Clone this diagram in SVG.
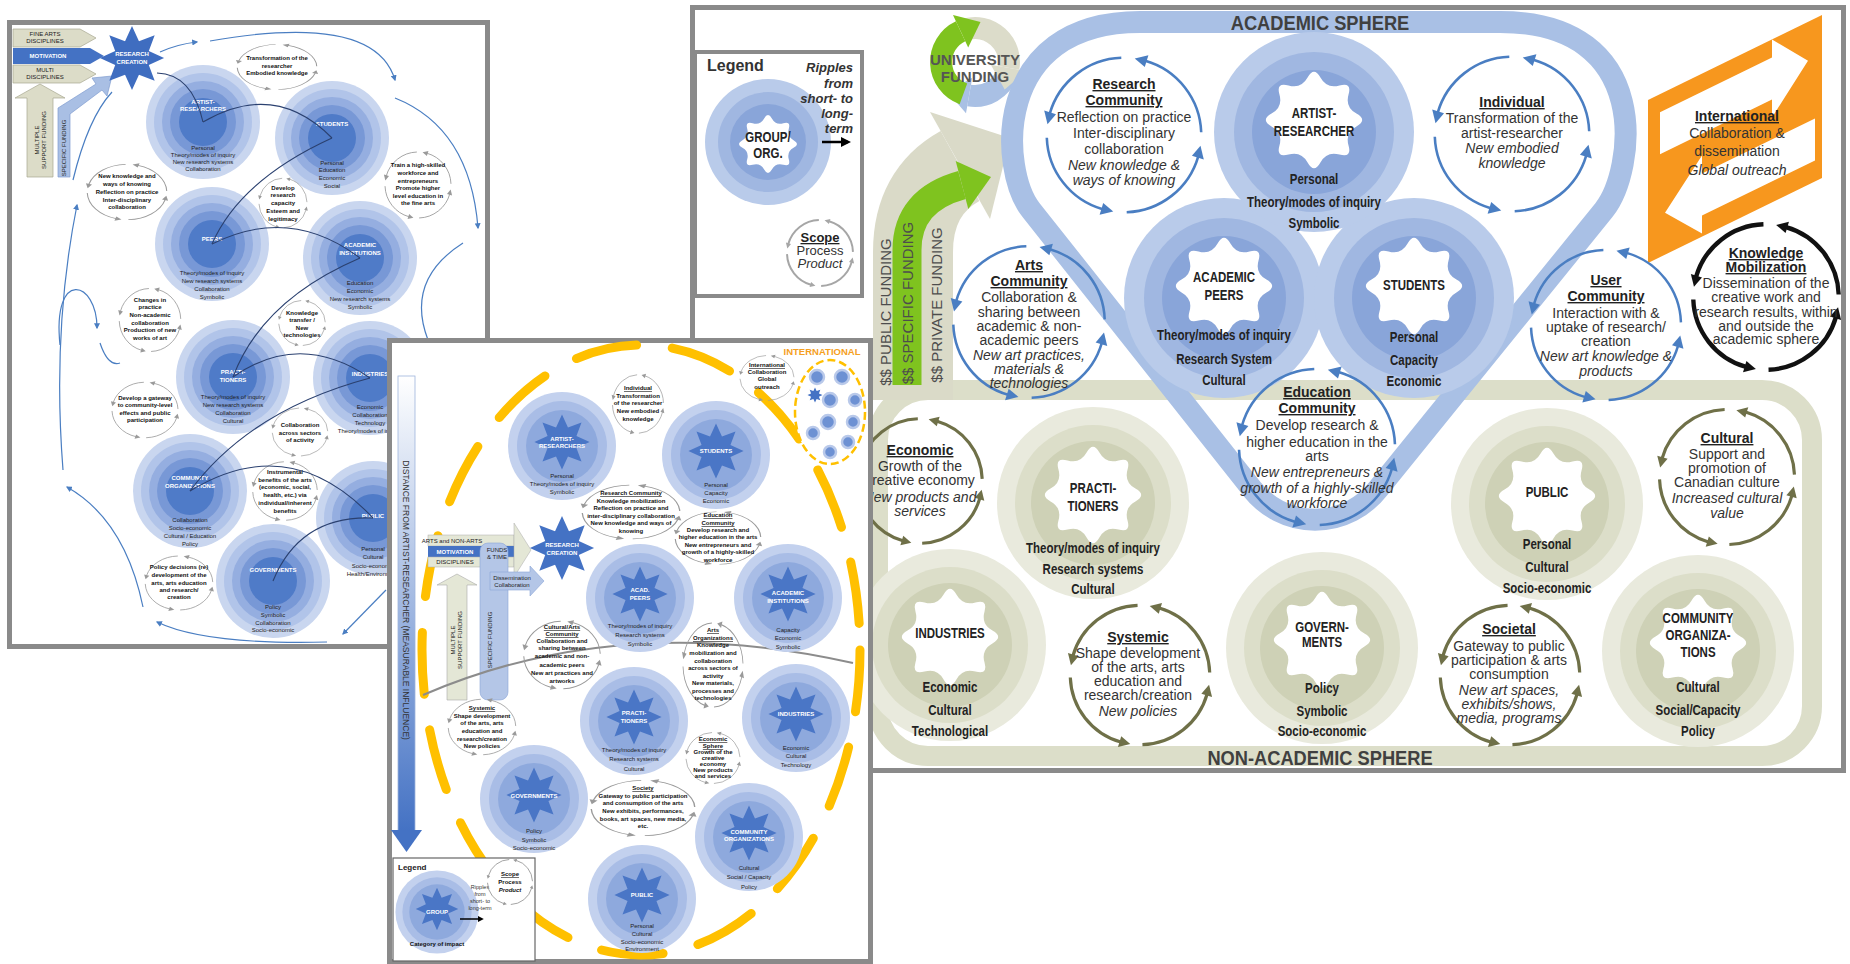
<svg xmlns="http://www.w3.org/2000/svg" width="1850" height="964" viewBox="0 0 1850 964">
<defs>
<style>
text{font-family:"Liberation Sans",Arial,sans-serif}
.t{font-size:14px;fill:#333;text-anchor:middle}
.h{font-weight:bold;text-decoration:underline;fill:#222}
.i{font-style:italic}
.n{font-family:"Liberation Sans",Arial,sans-serif;font-weight:bold;font-size:14px;fill:#222;text-anchor:middle}
.sp{font-family:"Liberation Sans",Arial,sans-serif;font-weight:bold;font-size:21px;fill:#404040;text-anchor:middle}
.fund{font-size:15px;fill:#4d4d4d;text-anchor:middle}
.frame{fill:#fff;stroke:#8a8a8a;stroke-width:5}
.s6{font-size:6px;fill:#222;text-anchor:middle}
.w6{font-size:6px;fill:#fff;font-weight:bold;text-anchor:middle}
.b6{font-size:6px;fill:#111;font-weight:bold;text-anchor:middle}
.bl{fill:none;stroke:#4a7ec2;stroke-width:1.2}
.nv{fill:none;stroke:#2b4170;stroke-width:1.1}
</style>
<path id="star8w" d="M45.63,-6.89 Q58,0 45.63,6.89 T37.14,27.4 T27.4,37.14 T6.89,45.63 T-6.89,45.63 T-27.4,37.14 T-37.14,27.4 T-45.63,6.89 T-45.63,-6.89 T-37.14,-27.4 T-27.4,-37.14 T-6.89,-45.63 T6.89,-45.63 T27.4,-37.14 T37.14,-27.4 T45.63,-6.89 Z"/>
<polygon id="star8p" points="0,-30 6.5,-15.7 21.2,-21.2 15.7,-6.5 30,0 15.7,6.5 21.2,21.2 6.5,15.7 0,30 -6.5,15.7 -21.2,21.2 -15.7,6.5 -30,0 -15.7,-6.5 -21.2,-21.2 -6.5,-15.7"/>
<g id="nodeB"><circle r="100" fill="#b9cbea"/><circle r="80" fill="#a0b7e1"/><circle r="62" fill="#89a5d9"/><use href="#star8w" transform="translate(0,-12) scale(0.93)" fill="#fff"/></g>
<g id="nodeG"><circle r="96" fill="#e9eadd"/><circle r="78" fill="#dcdec9"/><circle r="62" fill="#ced1b6"/><use href="#star8w" transform="translate(0,-8) scale(0.93)" fill="#fff"/></g>
<g id="lpNode"><circle r="57" fill="#c9d6ef"/><circle r="49" fill="#b1c4e9"/><circle r="41" fill="#95aee0"/><circle r="33" fill="#7898d6"/><circle r="24" fill="#4f7bc8"/></g>
<g id="mpNode"><circle r="54" fill="#c3d1ee"/><circle r="45" fill="#a9bde6"/><circle r="36" fill="#8ea9dd"/><use href="#star8p" transform="translate(0,-4) scale(0.92)" fill="#4a76c6"/></g>
<g id="seg"><path d="M2.62,74.95 A75,75 0 0 0 72.1,20.67" fill="none" stroke="currentColor"/><polygon points="74.27,10.44 77.46,23.68 65.98,20.18" fill="currentColor"/></g>
<g id="cyc"><use href="#seg"/><use href="#seg" transform="rotate(90)"/><use href="#seg" transform="rotate(180)"/><use href="#seg" transform="rotate(270)"/></g>
<marker id="mb" viewBox="0 0 10 10" refX="8" refY="5" markerWidth="5" markerHeight="5" orient="auto"><path d="M0,0 L10,5 L0,10 z" fill="#4a7ec2"/></marker>
<marker id="mk" viewBox="0 0 10 10" refX="7" refY="5" markerWidth="4" markerHeight="4" orient="auto"><path d="M0,0 L10,5 L0,10 z" fill="#000"/></marker>
<linearGradient id="gDist" x1="0" y1="0" x2="0" y2="1"><stop offset="0" stop-color="#ffffff"/><stop offset="1" stop-color="#4472c4"/></linearGradient>
</defs>
<rect width="1850" height="964" fill="#fff"/>

<!-- ================= LEFT PANEL ================= -->
<g id="left-panel">
<rect class="frame" x="9.5" y="22.5" width="478" height="624"/>
<g id="lp-inputs">
<polygon points="13,29 80,29 96,38 80,47 13,47" fill="#dcdcc8" stroke="#a8a890" stroke-width="0.7"/>
<text class="s6" x="45" y="36" font-size="5">FINE ARTS</text><text class="s6" x="45" y="43" font-size="5">DISCIPLINES</text>
<polygon points="13,48 90,48 104,56 90,64 13,64" fill="#4472c4"/>
<text class="w6" x="48" y="58" font-size="5">MOTIVATION</text>
<polygon points="13,65 80,65 96,74 80,83 13,83" fill="#dcdcc8" stroke="#a8a890" stroke-width="0.7"/>
<text class="s6" x="45" y="72" font-size="5">MULTI</text><text class="s6" x="45" y="79" font-size="5">DISCIPLINES</text>
<polygon points="27,177 27,98 15,98 40,84 65,98 53,98 53,177" fill="#dcdcc8" stroke="#a8a890" stroke-width="0.7"/>
<text class="s6" font-size="5" transform="translate(39,140) rotate(-90)">MULTIPLE</text>
<text class="s6" font-size="5" transform="translate(46,140) rotate(-90)">SUPPORT FUNDING</text>
<polygon points="58,177 58,108 96,84 92,78 112,76 107,96 102,90 70,114 70,177" fill="#a9bfe4" stroke="#7f9cd0" stroke-width="0.7"/>
<text class="s6" font-size="5" transform="translate(66,148) rotate(-90)">SPECIFIC FUNDING</text>
</g>
<g id="lp-research-creation"><use href="#star8p" transform="translate(132,58) scale(1.07)" fill="#3f6dc0"/><text class="w6" x="132" y="56">RESEARCH</text><text class="w6" x="132" y="64">CREATION</text></g>

<g id="lp-artist"><use href="#lpNode" x="203" y="122"/><text class="w6" x="203" y="104">ARTIST-</text><text class="w6" x="203" y="111">RESEARCHERS</text><text class="s6" x="203" y="150">Personal</text><text class="s6" x="203" y="157">Theory/modes of inquiry</text><text class="s6" x="203" y="164">New research systems</text><text class="s6" x="203" y="171">Collaboration</text></g>
<g id="lp-students"><use href="#lpNode" x="332" y="138"/><text class="w6" x="332" y="126">STUDENTS</text><text class="s6" x="332" y="165">Personal</text><text class="s6" x="332" y="172">Education</text><text class="s6" x="332" y="180">Economic</text><text class="s6" x="332" y="188">Social</text></g>
<g id="lp-peers"><use href="#lpNode" x="212" y="244"/><text class="w6" x="212" y="241">PEERS</text><text class="s6" x="212" y="275">Theory/modes of inquiry</text><text class="s6" x="212" y="283">New research systems</text><text class="s6" x="212" y="291">Collaboration</text><text class="s6" x="212" y="299">Symbolic</text></g>
<g id="lp-academic"><use href="#lpNode" x="360" y="258"/><text class="w6" x="360" y="247">ACADEMIC</text><text class="w6" x="360" y="255">INSTITUTIONS</text><text class="s6" x="360" y="285">Education</text><text class="s6" x="360" y="293">Economic</text><text class="s6" x="360" y="301">New research systems</text><text class="s6" x="360" y="309">Symbolic</text></g>
<g id="lp-practitioners"><use href="#lpNode" x="233" y="377"/><text class="w6" x="233" y="374">PRACTI-</text><text class="w6" x="233" y="382">TIONERS</text><text class="s6" x="233" y="399">Theory/modes of inquiry</text><text class="s6" x="233" y="407">New research systems</text><text class="s6" x="233" y="415">Collaboration</text><text class="s6" x="233" y="423">Cultural</text></g>
<g id="lp-industries"><use href="#lpNode" x="370" y="378"/><text class="w6" x="370" y="376">INDUSTRIES</text><text class="s6" x="370" y="409">Economic</text><text class="s6" x="370" y="417">Collaboration</text><text class="s6" x="370" y="425">Technology</text><text class="s6" x="370" y="433">Theory/modes of inquiry</text></g>
<g id="lp-community"><use href="#lpNode" x="190" y="491"/><text class="w6" x="190" y="480">COMMUNITY</text><text class="w6" x="190" y="488">ORGANIZATIONS</text><text class="s6" x="190" y="522">Collaboration</text><text class="s6" x="190" y="530">Socio-economic</text><text class="s6" x="190" y="538">Cultural / Education</text><text class="s6" x="190" y="546">Policy</text></g>
<g id="lp-public"><use href="#lpNode" x="373" y="518"/><text class="w6" x="373" y="518">PUBLIC</text><text class="s6" x="373" y="551">Personal</text><text class="s6" x="373" y="559">Cultural</text><text class="s6" x="373" y="568">Socio-economic</text><text class="s6" x="373" y="576">Health/Environment</text></g>
<g id="lp-governments"><use href="#lpNode" x="273" y="581"/><text class="w6" x="273" y="572">GOVERNMENTS</text><text class="s6" x="273" y="609">Policy</text><text class="s6" x="273" y="617">Symbolic</text><text class="s6" x="273" y="625">Collaboration</text><text class="s6" x="273" y="632">Socio-economic</text></g>

<g id="lp-impact-1"><use href="#cyc" transform="translate(277,67) scale(0.53,0.3)" color="#9a9a9a" stroke-width="2"/><text class="b6" x="277" y="60">Transformation of the</text><text class="b6" x="277" y="68">researcher</text><text class="b6" x="277" y="75">Embodied knowledge</text></g>
<g id="lp-impact-2"><use href="#cyc" transform="translate(127,192) scale(0.53,0.37)" color="#9a9a9a" stroke-width="2"/><text class="b6" x="127" y="178">New knowledge and</text><text class="b6" x="127" y="186">ways of knowing</text><text class="b6" x="127" y="194">Reflection on practice</text><text class="b6" x="127" y="202">Inter-disciplinary</text><text class="b6" x="127" y="209">collaboration</text></g>
<g id="lp-impact-3"><use href="#cyc" transform="translate(283,203) scale(0.32,0.33)" color="#9a9a9a" stroke-width="2.2"/><text class="b6" x="283" y="190">Develop</text><text class="b6" x="283" y="197">research</text><text class="b6" x="283" y="205">capacity</text><text class="b6" x="283" y="213">Esteem and</text><text class="b6" x="283" y="221">legitimacy</text></g>
<g id="lp-impact-4"><use href="#cyc" transform="translate(418,185) scale(0.44,0.44)" color="#9a9a9a" stroke-width="2"/><text class="b6" x="418" y="167">Train a high-skilled</text><text class="b6" x="418" y="175">workforce and</text><text class="b6" x="418" y="183">entrepreneurs</text><text class="b6" x="418" y="190">Promote higher</text><text class="b6" x="418" y="198">level education in</text><text class="b6" x="418" y="205">the fine arts</text></g>
<g id="lp-impact-5"><use href="#cyc" transform="translate(150,320) scale(0.41,0.42)" color="#9a9a9a" stroke-width="2"/><text class="b6" x="150" y="302">Changes in</text><text class="b6" x="150" y="309">practice</text><text class="b6" x="150" y="317">Non-academic</text><text class="b6" x="150" y="325">collaboration</text><text class="b6" x="150" y="332">Production of new</text><text class="b6" x="150" y="340">works of art</text></g>
<g id="lp-impact-6"><use href="#cyc" transform="translate(302,323) scale(0.31,0.3)" color="#9a9a9a" stroke-width="2.3"/><text class="b6" x="302" y="315">Knowledge</text><text class="b6" x="302" y="322">transfer /</text><text class="b6" x="302" y="330">New</text><text class="b6" x="302" y="337">technologies</text></g>
<g id="lp-impact-7"><use href="#cyc" transform="translate(145,410) scale(0.44,0.37)" color="#9a9a9a" stroke-width="2"/><text class="b6" x="145" y="400">Develop a gateway</text><text class="b6" x="145" y="407">to community-level</text><text class="b6" x="145" y="415">effects and public</text><text class="b6" x="145" y="422">participation</text></g>
<g id="lp-impact-8"><use href="#cyc" transform="translate(300,432) scale(0.37,0.32)" color="#9a9a9a" stroke-width="2"/><text class="b6" x="300" y="427">Collaboration</text><text class="b6" x="300" y="435">across sectors</text><text class="b6" x="300" y="442">of activity</text></g>
<g id="lp-impact-9"><use href="#cyc" transform="translate(285,491) scale(0.43,0.39)" color="#9a9a9a" stroke-width="2"/><text class="b6" x="285" y="474">Instrumental</text><text class="b6" x="285" y="482">benefits of the arts</text><text class="b6" x="285" y="489">(economic, social,</text><text class="b6" x="285" y="497">health, etc.) via</text><text class="b6" x="285" y="505">individual/inherent</text><text class="b6" x="285" y="513">benefits</text></g>
<g id="lp-impact-10"><use href="#cyc" transform="translate(179,583) scale(0.45,0.36)" color="#9a9a9a" stroke-width="2"/><text class="b6" x="179" y="569">Policy decisions (re)</text><text class="b6" x="179" y="577">development of the</text><text class="b6" x="179" y="585">arts, arts education</text><text class="b6" x="179" y="592">and research/</text><text class="b6" x="179" y="599">creation</text></g>

<g id="lp-connectors">
<path class="bl" d="M160,52 Q178,44 197,42" marker-end="url(#mb)"/>
<path class="bl" d="M210,41 Q375,12 395,80" marker-end="url(#mb)"/>
<path class="bl" d="M395,98 Q470,128 478,228" marker-end="url(#mb)"/>
<path class="bl" d="M463,243 Q405,280 428,340"/>
<path class="bl" d="M386,590 L343,634" marker-end="url(#mb)"/>
<path class="bl" d="M327,642 Q205,645 157,622" marker-end="url(#mb)"/>
<path class="bl" d="M143,607 Q125,520 67,487" marker-end="url(#mb)"/>
<path class="bl" d="M63,470 Q52,330 77,205" marker-end="url(#mb)"/>
<path class="bl" d="M73,180 Q88,118 112,92"/>
<path class="bl" d="M60,345 C52,268 97,280 97,328" marker-end="url(#mb)"/>
<path class="bl" d="M100,343 Q108,367 120,363"/>
<path class="nv" d="M157,73 Q192,74 203,122"/>
<path class="nv" d="M203,122 Q275,80 332,138"/>
<path class="nv" d="M332,138 Q240,180 212,244"/>
<path class="nv" d="M212,244 Q290,205 360,258"/>
<path class="nv" d="M360,258 Q262,300 233,377"/>
<path class="nv" d="M233,377 Q300,330 370,378"/>
<path class="nv" d="M370,378 Q250,410 190,491"/>
<path class="nv" d="M190,491 Q290,430 373,518"/>
<path class="nv" d="M373,518 Q300,515 273,581"/>
</g>
</g>

<!-- ================= RIGHT PANEL ================= -->
<g id="right-panel">
<rect class="frame" x="692.5" y="7.5" width="1151" height="763"/>

<g id="legend">
<rect x="695" y="52" width="167" height="244" fill="#fff" stroke="#8a8a8a" stroke-width="4"/>
<text x="707" y="71" font-size="16" font-weight="bold" fill="#333">Legend</text>
<circle cx="768" cy="142" r="63" fill="#b9cbea"/><circle cx="768" cy="142" r="50" fill="#a0b7e1"/><circle cx="768" cy="142" r="38" fill="#89a5d9"/>
<use href="#star8w" transform="translate(768,144) scale(0.56)" fill="#fff"/>
<g transform="translate(768,0) scale(0.82,1)"><text class="n" x="0" y="142">GROUP/</text><text class="n" x="0" y="158">ORG.</text></g>
<g font-size="13" font-weight="bold" font-style="italic" fill="#333" text-anchor="end">
<text x="853" y="72">Ripples</text><text x="853" y="88">from</text><text x="853" y="103">short- to</text><text x="853" y="118">long-</text><text x="853" y="133">term</text>
</g>
<line x1="822" y1="142" x2="848" y2="142" stroke="#000" stroke-width="2.5" marker-end="url(#mk)"/>
<use href="#cyc" transform="translate(820,253) scale(0.44)" color="#a6a6a6" stroke-width="4.5"/>
<text x="820" y="242" font-size="13" text-anchor="middle" font-weight="bold" text-decoration="underline" fill="#222">Scope</text>
<text x="820" y="255" font-size="13" text-anchor="middle" fill="#333">Process</text>
<text x="820" y="268" font-size="13" text-anchor="middle" font-style="italic" fill="#333">Product</text>
</g>

<g id="non-academic-sphere">
<rect x="878" y="390" width="934" height="366" rx="50" fill="none" stroke="#dcdec9" stroke-width="20"/>
<text class="sp" transform="translate(1320,765) scale(0.87,1)">NON-ACADEMIC SPHERE</text>
</g>

<g id="funding">
<path d="M913,400 L913,252 Q913,192 960,166" fill="none" stroke="#dadac8" stroke-width="80"/>
<polygon points="930,112 1010,138 990,219" fill="#dadac8"/>
<path d="M907,385 L907,250 Q907,200 962,185" fill="none" stroke="#7fc31f" stroke-width="29"/>
<polygon points="955.7,161 991,177 968.3,209" fill="#7fc31f"/>
<text class="fund" transform="translate(891,312) rotate(-90)">$$ PUBLIC FUNDING</text>
<text class="fund" transform="translate(913,303) rotate(-90)">$$ SPECIFIC FUNDING</text>
<text class="fund" transform="translate(942,305) rotate(-90)">$$ PRIVATE FUNDING</text>
</g>

<g id="university-funding">
<path d="M1006.9,73.6 A34,34 0 0 1 969.1,95.5" fill="none" stroke="#a9c0e4" stroke-width="22"/>
<polygon points="947.4,91.7 972.2,77.8 966,113.2" fill="#a9c0e4"/>
<path d="M966.2,29.2 A34,34 0 0 1 1008.5,67.9" fill="none" stroke="#dcdcca" stroke-width="22"/>
<polygon points="1004.7,89.6 990.8,64.8 1026.2,71" fill="#dcdcca"/>
<path d="M963.4,93.9 A34,34 0 0 1 960.6,31.2" fill="none" stroke="#7fc31f" stroke-width="22"/>
<polygon points="980.5,21.9 968.2,47.5 953,14.9" fill="#7fc31f"/>
<text x="975" y="65" font-size="15" font-weight="bold" fill="#555" text-anchor="middle">UNIVERSITY</text>
<text x="975" y="82" font-size="15" font-weight="bold" fill="#555" text-anchor="middle">FUNDING</text>
</g>

<g id="academic-sphere">
<path d="M1252,489 L1031,210 C1000,171 990,22 1140,22 L1500,22 C1655,22 1635,171 1604,210 L1378,489 A80,80 0 0 1 1252,489 Z" fill="none" stroke="#a9c0e5" stroke-width="22"/>
<text class="sp" transform="translate(1320,30) scale(0.87,1)">ACADEMIC SPHERE</text>
</g>

<g id="node-practitioners"><use href="#nodeG" x="1093" y="503"/><g transform="translate(1093,0) scale(0.82,1)"><text class="n" x="0" y="493">PRACTI-</text><text class="n" x="0" y="511">TIONERS</text><text class="n" x="0" y="553">Theory/modes of inquiry</text><text class="n" x="0" y="574">Research systems</text><text class="n" x="0" y="594">Cultural</text></g></g>
<g id="node-public"><use href="#nodeG" x="1547" y="504"/><g transform="translate(1547,0) scale(0.82,1)"><text class="n" x="0" y="497">PUBLIC</text><text class="n" x="0" y="549">Personal</text><text class="n" x="0" y="572">Cultural</text><text class="n" x="0" y="593">Socio-economic</text></g></g>
<g id="node-industries"><use href="#nodeG" x="950" y="645"/><g transform="translate(950,0) scale(0.82,1)"><text class="n" x="0" y="638">INDUSTRIES</text><text class="n" x="0" y="692">Economic</text><text class="n" x="0" y="715">Cultural</text><text class="n" x="0" y="736">Technological</text></g></g>
<g id="node-governments"><use href="#nodeG" x="1322" y="648"/><g transform="translate(1322,0) scale(0.82,1)"><text class="n" x="0" y="632">GOVERN-</text><text class="n" x="0" y="647">MENTS</text><text class="n" x="0" y="693">Policy</text><text class="n" x="0" y="716">Symbolic</text><text class="n" x="0" y="736">Socio-economic</text></g></g>
<g id="node-community-organizations"><use href="#nodeG" x="1698" y="651"/><g transform="translate(1698,0) scale(0.82,1)"><text class="n" x="0" y="623">COMMUNITY</text><text class="n" x="0" y="640">ORGANIZA-</text><text class="n" x="0" y="657">TIONS</text><text class="n" x="0" y="692">Cultural</text><text class="n" x="0" y="715">Social/Capacity</text><text class="n" x="0" y="736">Policy</text></g></g>

<g id="node-academic-peers"><use href="#nodeB" x="1224" y="298"/><g transform="translate(1224,0) scale(0.82,1)"><text class="n" x="0" y="282">ACADEMIC</text><text class="n" x="0" y="300">PEERS</text><text class="n" x="0" y="340">Theory/modes of inquiry</text><text class="n" x="0" y="364">Research System</text><text class="n" x="0" y="385">Cultural</text></g></g>
<g id="node-students"><use href="#nodeB" x="1414" y="298"/><g transform="translate(1414,0) scale(0.82,1)"><text class="n" x="0" y="290">STUDENTS</text><text class="n" x="0" y="342">Personal</text><text class="n" x="0" y="365">Capacity</text><text class="n" x="0" y="386">Economic</text></g></g>
<g id="node-artist-researcher"><use href="#nodeB" x="1314" y="132"/><g transform="translate(1314,0) scale(0.82,1)"><text class="n" x="0" y="118">ARTIST-</text><text class="n" x="0" y="136">RESEARCHER</text><text class="n" x="0" y="184">Personal</text><text class="n" x="0" y="207">Theory/modes of inquiry</text><text class="n" x="0" y="228">Symbolic</text></g></g>

<g id="node-international">
<g transform="matrix(1,-0.4885,0,1,0,805.05)">
<rect x="1648" y="100" width="174" height="163" fill="#f7971e"/>
<polygon points="1660,118 1772,118 1772,100 1808,139 1772,178 1772,160 1660,160" fill="#fff"/>
<polygon points="1815,200 1702,200 1702,182 1665,221 1702,260 1702,242 1815,242" fill="#fff"/>
</g>
<text class="t h" x="1737" y="121">International</text>
<text class="t" x="1737" y="138">Collaboration &amp;</text>
<text class="t" x="1737" y="156">dissemination</text>
<text class="t i" x="1737" y="175">Global outreach</text>
</g>

<g id="impact-research-community"><use href="#cyc" transform="translate(1124,135) scale(1.03)" color="#4a7ec2" stroke-width="2.5"/>
<text class="t h" x="1124" y="89">Research</text><text class="t h" x="1124" y="105">Community</text><text class="t" x="1124" y="122">Reflection on practice</text><text class="t" x="1124" y="138">Inter-disciplinary</text><text class="t" x="1124" y="154">collaboration</text><text class="t i" x="1124" y="170">New knowledge &amp;</text><text class="t i" x="1124" y="185">ways of knowing</text></g>
<g id="impact-individual"><use href="#cyc" transform="translate(1512,134) scale(1.03)" color="#4a7ec2" stroke-width="2.5"/>
<text class="t h" x="1512" y="107">Individual</text><text class="t" x="1512" y="123">Transformation of the</text><text class="t" x="1512" y="138">artist-researcher</text><text class="t i" x="1512" y="153">New embodied</text><text class="t i" x="1512" y="168">knowledge</text></g>
<g id="impact-arts-community"><use href="#cyc" transform="translate(1029,322) scale(1.01)" color="#4a7ec2" stroke-width="2.5"/>
<text class="t h" x="1029" y="270">Arts</text><text class="t h" x="1029" y="286">Community</text><text class="t" x="1029" y="302">Collaboration &amp;</text><text class="t" x="1029" y="317">sharing between</text><text class="t" x="1029" y="331">academic &amp; non-</text><text class="t" x="1029" y="345">academic peers</text><text class="t i" x="1029" y="360">New art practices,</text><text class="t i" x="1029" y="374">materials &amp;</text><text class="t i" x="1029" y="388">technologies</text></g>
<g id="impact-user-community"><use href="#cyc" transform="translate(1606,325)" color="#4a7ec2" stroke-width="2.5"/>
<text class="t h" x="1606" y="285">User</text><text class="t h" x="1606" y="301">Community</text><text class="t" x="1606" y="318">Interaction with &amp;</text><text class="t" x="1606" y="332">uptake of research/</text><text class="t" x="1606" y="346">creation</text><text class="t i" x="1606" y="361">New art knowledge &amp;</text><text class="t i" x="1606" y="376">products</text></g>
<g id="impact-education-community"><use href="#cyc" transform="translate(1317,447) scale(1.04)" color="#4a7ec2" stroke-width="2.5"/>
<text class="t h" x="1317" y="397">Education</text><text class="t h" x="1317" y="413">Community</text><text class="t" x="1317" y="430">Develop research &amp;</text><text class="t" x="1317" y="447">higher education in the</text><text class="t" x="1317" y="461">arts</text><text class="t i" x="1317" y="477">New entrepreneurs &amp;</text><text class="t i" x="1317" y="493">growth of a highly-skilled</text><text class="t i" x="1317" y="508">workforce</text></g>
<g id="impact-knowledge-mobilization"><use href="#cyc" transform="translate(1766,297) scale(0.97)" color="#111" stroke-width="4.5"/>
<text class="t h" x="1766" y="258">Knowledge</text><text class="t h" x="1766" y="272">Mobilization</text><text class="t" x="1766" y="288">Dissemination of the</text><text class="t" x="1766" y="302">creative work and</text><text class="t" x="1766" y="317">research results, within</text><text class="t" x="1766" y="331">and outside the</text><text class="t" x="1766" y="344">academic sphere</text></g>
<g id="impact-economic"><use href="#cyc" transform="translate(920,481) scale(0.83)" color="#6f7048" stroke-width="3.8"/>
<text class="t h" x="920" y="455">Economic</text><text class="t" x="920" y="471">Growth of the</text><text class="t" x="920" y="485">creative economy</text><text class="t i" x="920" y="502">New products and</text><text class="t i" x="920" y="516">services</text></g>
<g id="impact-cultural"><use href="#cyc" transform="translate(1727,477) scale(0.9)" color="#6f7048" stroke-width="3.5"/>
<text class="t h" x="1727" y="443">Cultural</text><text class="t" x="1727" y="459">Support and</text><text class="t" x="1727" y="473">promotion of</text><text class="t" x="1727" y="487">Canadian culture</text><text class="t i" x="1727" y="503">Increased cultural</text><text class="t i" x="1727" y="518">value</text></g>
<g id="impact-systemic"><use href="#cyc" transform="translate(1140,675) scale(0.93)" color="#6f7048" stroke-width="3.4"/>
<text class="t h" x="1138" y="642">Systemic</text><text class="t" x="1138" y="658">Shape development</text><text class="t" x="1138" y="672">of the arts, arts</text><text class="t" x="1138" y="686">education and</text><text class="t" x="1138" y="700">research/creation</text><text class="t i" x="1138" y="716">New policies</text></g>
<g id="impact-societal"><use href="#cyc" transform="translate(1510,675) scale(0.93)" color="#6f7048" stroke-width="3.4"/>
<text class="t h" x="1509" y="634">Societal</text><text class="t" x="1509" y="651">Gateway to public</text><text class="t" x="1509" y="665">participation &amp; arts</text><text class="t" x="1509" y="679">consumption</text><text class="t i" x="1509" y="695">New art spaces,</text><text class="t i" x="1509" y="709">exhibits/shows,</text><text class="t i" x="1509" y="723">media, programs</text></g>
</g>

<!-- ================= MIDDLE PANEL ================= -->
<g id="middle-panel">
<rect class="frame" x="389.5" y="340.5" width="481" height="621"/>
<ellipse cx="641" cy="650" rx="219" ry="305" fill="none" stroke="#ffc000" stroke-width="9" stroke-dasharray="62 36" stroke-linecap="round"/>
<g id="mp-distance">
<rect x="398" y="376" width="17" height="455" fill="url(#gDist)" stroke="#9fb4dc" stroke-width="0.8"/>
<polygon points="391,830 422,830 406.5,852" fill="#4472c4"/>
<text transform="translate(403,600) rotate(90)" font-size="8.5" fill="#333" text-anchor="middle">DISTANCE FROM ARTIST-RESEARCHER (MEASURABLE INFLUENCE)</text>
</g>
<g id="mp-international">
<text x="822" y="355" font-size="9.5" font-weight="bold" fill="#f5a01e" text-anchor="middle">INTERNATIONAL</text>
<ellipse cx="830" cy="412" rx="35" ry="52" fill="#fff" stroke="#ffc000" stroke-width="2.5" stroke-dasharray="8 4"/>
<g fill="#6d91d3" stroke="#b9c9ea" stroke-width="2.5">
<circle cx="817" cy="377" r="7"/><circle cx="842" cy="377" r="7"/><circle cx="830" cy="400" r="7"/><circle cx="855" cy="400" r="6"/><circle cx="828" cy="422" r="7"/><circle cx="853" cy="422" r="6"/><circle cx="813" cy="433" r="6"/><circle cx="848" cy="442" r="6"/><circle cx="830" cy="452" r="6"/>
</g>
<use href="#star8p" transform="translate(815,395) scale(0.25)" fill="#4472c4"/>
<use href="#cyc" transform="translate(767,378) scale(0.36,0.3)" color="#9a9a9a" stroke-width="2"/>
<text class="b6" x="767" y="367" text-decoration="underline">International</text><text class="b6" x="767" y="374">Collaboration</text><text class="b6" x="767" y="381">Global</text><text class="b6" x="767" y="389">outreach</text>
</g>
<g id="mp-motivation">
<rect x="428" y="535" width="86" height="11" fill="#e4e7d6" stroke="#aaa" stroke-width="0.5"/>
<text class="s6" x="452" y="543" font-size="5">ARTS and NON-ARTS</text>
<rect x="428" y="546" width="86" height="11" fill="#4472c4"/>
<text class="w6" x="455" y="554" font-size="5">MOTIVATION</text>
<rect x="428" y="557" width="86" height="10" fill="#e4e7d6" stroke="#aaa" stroke-width="0.5"/>
<text class="s6" x="455" y="564" font-size="5">DISCIPLINES</text>
<polygon points="514,523 531,550 514,577" fill="#e4e7d6" stroke="#aaa" stroke-width="0.5"/>
<rect x="480" y="543" width="28" height="157" rx="8" fill="#b4c6e7" stroke="#8aa4d6" stroke-width="0.6"/>
<text class="s6" x="497" y="552" font-size="5">FUNDS</text><text class="s6" x="497" y="559" font-size="5">&amp; TIME</text>
<polygon points="490,572 530,572 530,566 544,581 530,596 530,590 490,590" fill="#b4c6e7" stroke="#8aa4d6" stroke-width="0.6"/>
<text class="s6" x="512" y="580" font-size="4.5">Dissemination</text><text class="s6" x="512" y="587" font-size="4.5">Collaboration</text>
<polygon points="447,700 447,585 437,585 457,574 477,585 467,585 467,700" fill="#e4e7d6" stroke="#aaa" stroke-width="0.6"/>
<text class="s6" font-size="5" transform="translate(455,640) rotate(-90)">MULTIPLE</text>
<text class="s6" font-size="5" transform="translate(462,640) rotate(-90)">SUPPORT FUNDING</text>
<text class="s6" font-size="5" transform="translate(492,640) rotate(-90)">SPECIFIC FUNDING</text>
</g>
<path id="mp-divider" d="M423,695 Q620,610 853,663" fill="none" stroke="#8c8c8c" stroke-width="2"/>

<g id="mp-artist"><use href="#mpNode" x="562" y="446"/><text class="w6" x="562" y="441">ARTIST-</text><text class="w6" x="562" y="448">RESEARCHERS</text><text class="s6" x="562" y="478">Personal</text><text class="s6" x="562" y="486">Theory/modes of inquiry</text><text class="s6" x="562" y="494">Symbolic</text></g>
<g id="mp-students"><use href="#mpNode" x="716" y="455"/><text class="w6" x="716" y="453">STUDENTS</text><text class="s6" x="716" y="487">Personal</text><text class="s6" x="716" y="495">Capacity</text><text class="s6" x="716" y="503">Economic</text></g>
<g id="mp-research-creation"><use href="#star8p" transform="translate(562,548) scale(1.07)" fill="#4472c4"/><text class="w6" x="562" y="547">RESEARCH</text><text class="w6" x="562" y="555">CREATION</text></g>
<g id="mp-peers"><use href="#mpNode" x="640" y="598"/><text class="w6" x="640" y="592">ACAD.</text><text class="w6" x="640" y="600">PEERS</text><text class="s6" x="640" y="628">Theory/modes of inquiry</text><text class="s6" x="640" y="637">Research systems</text><text class="s6" x="640" y="646">Symbolic</text></g>
<g id="mp-academic"><use href="#mpNode" x="788" y="598"/><text class="w6" x="788" y="595">ACADEMIC</text><text class="w6" x="788" y="603">INSTITUTIONS</text><text class="s6" x="788" y="632">Capacity</text><text class="s6" x="788" y="640">Economic</text><text class="s6" x="788" y="649">Symbolic</text></g>
<g id="mp-practitioners"><use href="#mpNode" x="634" y="721"/><text class="w6" x="634" y="715">PRACTI-</text><text class="w6" x="634" y="723">TIONERS</text><text class="s6" x="634" y="752">Theory/modes of inquiry</text><text class="s6" x="634" y="761">Research systems</text><text class="s6" x="634" y="771">Cultural</text></g>
<g id="mp-industries"><use href="#mpNode" x="796" y="718"/><text class="w6" x="796" y="716">INDUSTRIES</text><text class="s6" x="796" y="750">Economic</text><text class="s6" x="796" y="758">Cultural</text><text class="s6" x="796" y="767">Technology</text></g>
<g id="mp-governments"><use href="#mpNode" x="534" y="799"/><text class="w6" x="534" y="798">GOVERNMENTS</text><text class="s6" x="534" y="833">Policy</text><text class="s6" x="534" y="842">Symbolic</text><text class="s6" x="534" y="850">Socio-economic</text></g>
<g id="mp-community"><use href="#mpNode" x="749" y="837"/><text class="w6" x="749" y="834">COMMUNITY</text><text class="w6" x="749" y="841">ORGANIZATIONS</text><text class="s6" x="749" y="870">Cultural</text><text class="s6" x="749" y="879">Social / Capacity</text><text class="s6" x="749" y="889">Policy</text></g>
<g id="mp-public"><use href="#mpNode" x="642" y="899"/><text class="w6" x="642" y="897">PUBLIC</text><text class="s6" x="642" y="928">Personal</text><text class="s6" x="642" y="936">Cultural</text><text class="s6" x="642" y="944">Socio-economic</text><text class="s6" x="642" y="951">Environment</text></g>

<g id="mp-impact-individual"><use href="#cyc" transform="translate(638,404) scale(0.34,0.39)" color="#9a9a9a" stroke-width="2"/><text class="b6" x="638" y="390" text-decoration="underline">Individual</text><text class="b6" x="638" y="398">Transformation</text><text class="b6" x="638" y="405">of the researcher</text><text class="b6" x="638" y="413">New embodied</text><text class="b6" x="638" y="421">knowledge</text></g>
<g id="mp-impact-research"><use href="#cyc" transform="translate(631,512) scale(0.65,0.36)" color="#9a9a9a" stroke-width="2"/><text class="b6" x="631" y="495" text-decoration="underline">Research Community</text><text class="b6" x="631" y="503">Knowledge mobilization</text><text class="b6" x="631" y="510">Reflection on practice and</text><text class="b6" x="631" y="518">inter-disciplinary collaboration</text><text class="b6" x="631" y="525">New knowledge and ways of</text><text class="b6" x="631" y="533">knowing</text></g>
<g id="mp-impact-education"><use href="#cyc" transform="translate(718,538) scale(0.57,0.35)" color="#9a9a9a" stroke-width="2"/><text class="b6" x="718" y="517" text-decoration="underline">Education</text><text class="b6" x="718" y="525" text-decoration="underline">Community</text><text class="b6" x="718" y="532">Develop research and</text><text class="b6" x="718" y="539">higher education in the arts</text><text class="b6" x="718" y="547">New entrepreneurs and</text><text class="b6" x="718" y="554">growth of a highly-skilled</text><text class="b6" x="718" y="562">workforce</text></g>
<g id="mp-impact-cultural-arts"><use href="#cyc" transform="translate(562,655) scale(0.51,0.45)" color="#9a9a9a" stroke-width="2"/><text class="b6" x="562" y="629" text-decoration="underline">Cultural/Arts</text><text class="b6" x="562" y="636" text-decoration="underline">Community</text><text class="b6" x="562" y="643">Collaboration and</text><text class="b6" x="562" y="650">sharing between</text><text class="b6" x="562" y="658">academic and non-</text><text class="b6" x="562" y="667">academic peers</text><text class="b6" x="562" y="675">New art practices and</text><text class="b6" x="562" y="683">artworks</text></g>
<g id="mp-impact-arts-org"><use href="#cyc" transform="translate(713,665) scale(0.4,0.56)" color="#9a9a9a" stroke-width="2"/><text class="b6" x="713" y="632" text-decoration="underline">Arts</text><text class="b6" x="713" y="640" text-decoration="underline">Organizations</text><text class="b6" x="713" y="647">Knowledge</text><text class="b6" x="713" y="655">mobilization and</text><text class="b6" x="713" y="663">collaboration</text><text class="b6" x="713" y="670">across sectors of</text><text class="b6" x="713" y="678">activity</text><text class="b6" x="713" y="685">New materials,</text><text class="b6" x="713" y="693">processes and</text><text class="b6" x="713" y="700">technologies</text></g>
<g id="mp-impact-systemic"><use href="#cyc" transform="translate(482,727) scale(0.45,0.37)" color="#9a9a9a" stroke-width="2"/><text class="b6" x="482" y="710" text-decoration="underline">Systemic</text><text class="b6" x="482" y="718">Shape development</text><text class="b6" x="482" y="725">of the arts, arts</text><text class="b6" x="482" y="733">education and</text><text class="b6" x="482" y="741">research/creation</text><text class="b6" x="482" y="748">New policies</text></g>
<g id="mp-impact-economic"><use href="#cyc" transform="translate(713,758) scale(0.36,0.34)" color="#9a9a9a" stroke-width="2"/><text class="b6" x="713" y="741" text-decoration="underline">Economic</text><text class="b6" x="713" y="748" text-decoration="underline">Sphere</text><text class="b6" x="713" y="754">Growth of the</text><text class="b6" x="713" y="760">creative</text><text class="b6" x="713" y="766">economy</text><text class="b6" x="713" y="772">New products</text><text class="b6" x="713" y="778">and services</text></g>
<g id="mp-impact-society"><use href="#cyc" transform="translate(643,808) scale(0.69,0.37)" color="#9a9a9a" stroke-width="2"/><text class="b6" x="643" y="790" text-decoration="underline">Society</text><text class="b6" x="643" y="798">Gateway to public participation</text><text class="b6" x="643" y="805">and consumption of the arts</text><text class="b6" x="643" y="813">New exhibits, performances,</text><text class="b6" x="643" y="821">books, art spaces, new media,</text><text class="b6" x="643" y="828">etc.</text></g>

<g id="mp-legend">
<rect x="393" y="858" width="142" height="103" fill="#fff" stroke="#666" stroke-width="1.2"/>
<text x="398" y="870" font-size="8" font-weight="bold" fill="#222">Legend</text>
<use href="#mpNode" transform="translate(437,912) scale(0.77)"/>
<text class="w6" x="437" y="914" font-size="5">GROUP</text>
<g font-size="5.5" fill="#333" text-anchor="middle"><text x="480" y="889">Ripples</text><text x="480" y="896">from</text><text x="480" y="903">short- to</text><text x="480" y="910">long-term</text></g>
<line x1="460" y1="919" x2="482" y2="919" stroke="#000" stroke-width="1.5" marker-end="url(#mk)"/>
<text class="b6" x="437" y="946" font-size="6.5">Category of impact</text>
<use href="#cyc" transform="translate(510,882) scale(0.3)" color="#9a9a9a" stroke-width="3"/>
<text class="b6" x="510" y="876" text-decoration="underline">Scope</text><text class="b6" x="510" y="884">Process</text><text class="b6" x="510" y="892" font-style="italic">Product</text>
</g>
</g>
</svg>
